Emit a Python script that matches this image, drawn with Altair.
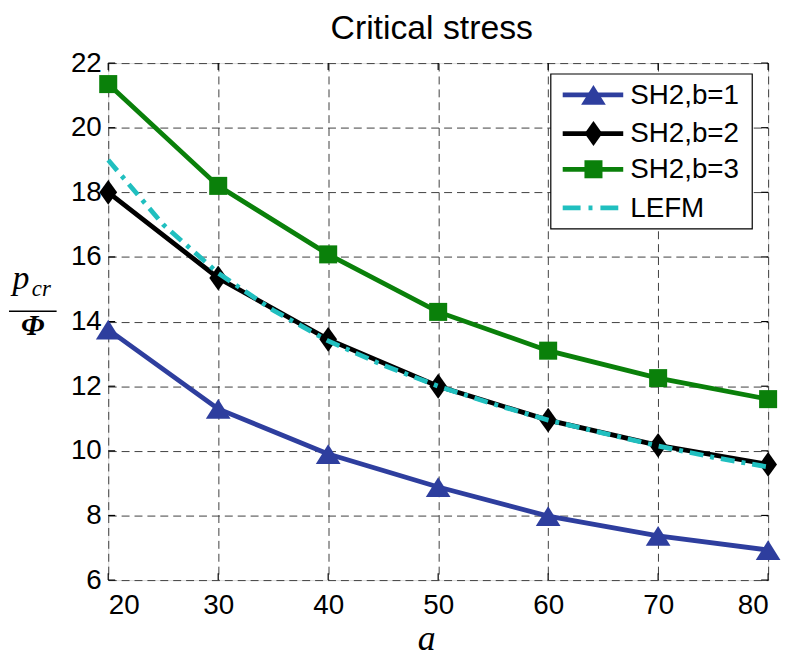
import altair as alt
import pandas as pd

# ---- data ----
a_vals = [20, 30, 40, 50, 60, 70, 80]
sh2_b1 = [13.75, 11.3, 9.9, 8.88, 7.98, 7.37, 6.93]
sh2_b2 = [18.0, 15.35, 13.45, 12.0, 10.95, 10.17, 9.58]
sh2_b3 = [21.35, 18.2, 16.08, 14.3, 13.1, 12.25, 11.6]
lefm_a = [20, 25, 30, 35, 40, 45, 50, 55, 60, 65, 70, 75, 80]
lefm_v = [19.0, 17.0, 15.5, 14.35, 13.4, 12.65, 12.0, 11.45, 10.95, 10.55, 10.15, 9.8, 9.5]

x_ticks = [20, 30, 40, 50, 60, 70, 80]
y_ticks = [6, 8, 10, 12, 14, 16, 18, 20, 22]

series_names = ["SH2,b=1", "SH2,b=2", "SH2,b=3", "LEFM"]
series_colors = ["#2E3E9E", "#000000", "#0A800A", "#20BFBF"]

title_text = "Critical stress"
x_title = "a"

W, H = 665, 521

TRI = "M0,-0.8L1,0.8L-1,0.8Z"
DIA = "M0,-1.4L1,0L0,1.4L-1,0Z"

x_scale = alt.Scale(domain=[20, 80], nice=False, zero=False)
y_scale = alt.Scale(domain=[6, 22], nice=False, zero=False)

x_axis = alt.Axis(values=x_ticks, title="", grid=True, ticks=False, domain=False,
                  labelFontSize=28, labelPadding=12, labelColor="#000",
                  labelFont="Liberation Sans",
                  gridDash=[8, 5], gridColor="#404040", gridWidth=1, gridOpacity=1)
y_axis = alt.Axis(values=y_ticks, title="", grid=True, ticks=False, domain=False,
                  labelFontSize=28, labelPadding=7, labelColor="#000",
                  labelFont="Liberation Sans",
                  gridDash=[8, 5], gridColor="#404040", gridWidth=1, gridOpacity=1)

X = alt.X("a:Q", scale=x_scale, axis=x_axis)
Y = alt.Y("v:Q", scale=y_scale, axis=y_axis)


def df(xs, ys):
    return pd.DataFrame({"a": xs, "v": ys})


def txt(s):
    return pd.DataFrame({"t": [s]})


layers = []

# inward ticks on all four sides
xt = pd.DataFrame({"a": x_ticks})
yt = pd.DataFrame({"v": y_ticks})
layers.append(alt.Chart(xt).mark_rule(color="black", strokeWidth=1.2).encode(
    x=X, y=alt.value(H), y2=alt.value(H - 7)))
layers.append(alt.Chart(xt).mark_rule(color="black", strokeWidth=1.2).encode(
    x=X, y=alt.value(0), y2=alt.value(7)))
layers.append(alt.Chart(yt).mark_rule(color="black", strokeWidth=1.2).encode(
    y=Y, x=alt.value(0), x2=alt.value(7)))
layers.append(alt.Chart(yt).mark_rule(color="black", strokeWidth=1.2).encode(
    y=Y, x=alt.value(W - 7), x2=alt.value(W)))

# SH2, b=1
d1 = df(a_vals, sh2_b1)
layers.append(alt.Chart(d1).mark_line(color=series_colors[0], strokeWidth=4.8).encode(x=X, y=Y))
layers.append(alt.Chart(d1).mark_point(shape=TRI, size=620, filled=True, opacity=1,
                                       color=series_colors[0]).encode(x=X, y=Y))
# SH2, b=2
d2 = df(a_vals, sh2_b2)
layers.append(alt.Chart(d2).mark_line(color=series_colors[1], strokeWidth=4.8).encode(x=X, y=Y))
layers.append(alt.Chart(d2).mark_point(shape=DIA, size=320, filled=True, opacity=1,
                                       color=series_colors[1]).encode(x=X, y=Y))
# SH2, b=3
d3 = df(a_vals, sh2_b3)
layers.append(alt.Chart(d3).mark_line(color=series_colors[2], strokeWidth=4.8).encode(x=X, y=Y))
layers.append(alt.Chart(d3).mark_point(shape="square", size=330, filled=True, opacity=1,
                                       color=series_colors[2]).encode(x=X, y=Y))
# LEFM
d4 = df(lefm_a, lefm_v)
layers.append(alt.Chart(d4).mark_line(color=series_colors[3], strokeWidth=4.8,
                                      strokeDash=[14, 7, 4, 7]).encode(x=X, y=Y))

# ---- legend (drawn manually: line + marker + label) ----
one = pd.DataFrame({"k": [0]})
LX0, LX1, LY0, LY1 = 446, 649, 11, 167
layers.append(alt.Chart(one).mark_rect(fill="white", stroke="black", strokeWidth=1.2).encode(
    x=alt.value(LX0), x2=alt.value(LX1), y=alt.value(LY0), y2=alt.value(LY1)))
rows = [32, 71, 107, 146]
shapes = [TRI, DIA, "square", None]
sizes = [620, 320, 330, 0]
for name, col, ry, shp, sz in zip(series_names, series_colors, rows, shapes, sizes):
    dash = [18, 8, 4, 8] if shp is None else [1, 0]
    layers.append(alt.Chart(one).mark_rule(color=col, strokeWidth=4.8, strokeDash=dash).encode(
        x=alt.value(458), x2=alt.value(519), y=alt.value(ry)))
    if shp is not None:
        layers.append(alt.Chart(one).mark_point(shape=shp, size=sz, filled=True, opacity=1,
                                                color=col).encode(
            x=alt.value(489), y=alt.value(ry)))
    layers.append(alt.Chart(txt(name)).mark_text(
        align="left", baseline="middle", fontSize=28, font="Liberation Sans", color="black").encode(
        x=alt.value(526), y=alt.value(ry + 1), text="t:N"))

# ---- y-axis label as a fraction  p_cr / Phi ----
layers.append(alt.Chart(txt("p")).mark_text(
    align="center", baseline="alphabetic", fontSize=34, font="Liberation Serif",
    fontStyle="italic", color="black").encode(x=alt.value(-88), y=alt.value(228), text="t:N"))
layers.append(alt.Chart(txt("cr")).mark_text(
    align="left", baseline="alphabetic", fontSize=23, font="Liberation Serif",
    fontStyle="italic", color="black").encode(x=alt.value(-77), y=alt.value(235), text="t:N"))
layers.append(alt.Chart(one).mark_rule(color="black", strokeWidth=1.5).encode(
    x=alt.value(-100), x2=alt.value(-52), y=alt.value(250)))
layers.append(alt.Chart(txt("Φ")).mark_text(
    align="center", baseline="alphabetic", fontSize=30, font="Liberation Serif",
    fontStyle="italic", fontWeight="bold", color="black").encode(
    x=alt.value(-76), y=alt.value(274), text="t:N"))

# ---- x-axis title and chart title ----
layers.append(alt.Chart(txt(x_title)).mark_text(
    align="center", baseline="alphabetic", fontSize=36, font="Liberation Serif",
    fontStyle="italic", color="black").encode(x=alt.value(321), y=alt.value(591), text="t:N"))
layers.append(alt.Chart(txt(title_text)).mark_text(
    align="center", baseline="alphabetic", fontSize=34, font="Liberation Sans",
    color="black").encode(x=alt.value(326), y=alt.value(-24), text="t:N"))

chart = alt.layer(*layers).properties(
    width=W, height=H,
    autosize=alt.AutoSizeParams(type="none"),
    padding={"left": 101, "top": 53, "right": 15, "bottom": 75},
).configure_view(stroke="black", strokeWidth=1.5).configure(background="white")

chart.save("out.html", embed_options={"renderer": "svg", "actions": False})
